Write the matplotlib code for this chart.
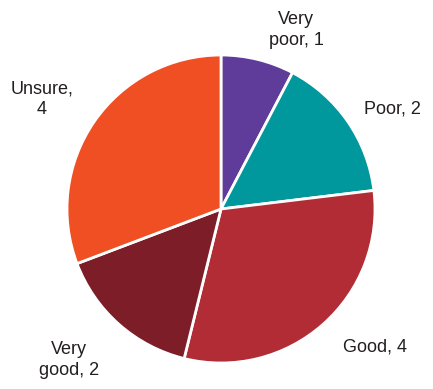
import matplotlib.pyplot as plt

# data
labels = ['Very\npoor, 1', 'Poor, 2', 'Good, 4', 'Very\ngood, 2', 'Unsure,\n4']
values = [1, 2, 4, 2, 4]
colors = ['#5F3C99', '#00979D', '#B22C35', '#7C1D28', '#F04E23']

# label positions in pixel coords (x, y from top)
label_pos = [(296, 30), (392, 109), (375, 347), (69, 360), (42, 99)]

W, H = 433, 389
fig = plt.figure(figsize=(W / 100, H / 100), dpi=100)
ax = fig.add_axes([0, 0, 1, 1])
ax.set_xlim(0, W)
ax.set_ylim(0, H)
ax.set_aspect('equal')
ax.axis('off')

# pie, starting at top and going clockwise
ax.pie(values, colors=colors, startangle=90, counterclock=False,
       center=(221, H - 209), radius=154,
       wedgeprops=dict(edgecolor='white', linewidth=2))
ax.set_xlim(0, W)
ax.set_ylim(0, H)

for lab, (x, y) in zip(labels, label_pos):
    ax.text(x, H - y, lab, ha='center', va='center', multialignment='center',
            fontsize=13, family='Liberation Sans', color='#231F20',
            linespacing=1.25)

fig.savefig('out.png', dpi=100)
